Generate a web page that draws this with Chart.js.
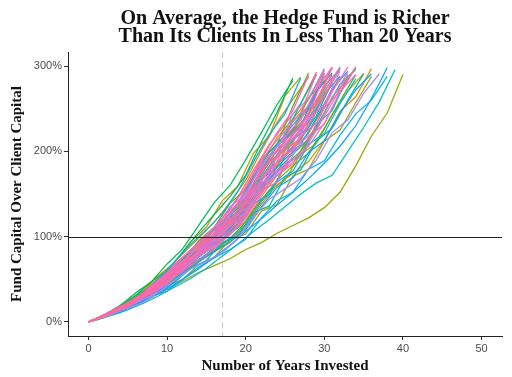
<!DOCTYPE html>
<html>
<head>
<meta charset="utf-8">
<script src="https://cdn.jsdelivr.net/npm/chart.js@4.4.1/dist/chart.umd.min.js"></script>
<style>
  html, body { margin: 0; padding: 0; background: #fff; }
</style>
</head>
<body>
<canvas id="sims" width="512" height="377"></canvas>
<script>
// fund capital / client capital (%), sampled every 2 years.
// some runs sit on even years, the others on 0,1,3,5,... (odd grid)
const evenYears = [0, 2, 4, 6, 8, 10, 12, 14, 16, 18, 20, 22, 24, 26, 28, 30, 32, 34, 36, 38, 40];
const oddYears = [0, 1, 3, 5, 7, 9, 11, 13, 15, 17, 19, 21, 23, 25, 27, 29, 31, 33, 35, 37, 39];

const run00 = [0, 7, 15, 26, 36, 52, 64, 84, 97, 123, 135, 168, 181, 221, 236, 276, 297];
const run01 = [0, 4, 13, 21, 36, 51, 68, 84, 100, 121, 146, 178, 208, 232, 256, 293];
const run02 = [0, 6, 13, 23, 35, 43, 59, 76, 89, 103, 118, 147, 172, 185, 217, 232, 268, 298];
const run03 = [0, 4, 12, 20, 31, 46, 64, 82, 96, 112, 135, 168, 196, 216, 237, 268, 298];
const run04 = [0, 8, 19, 28, 44, 61, 80, 98, 117, 140, 166, 201, 234, 261, 287];
const run05 = [0, 3, 11, 21, 29, 44, 55, 74, 86, 110, 121, 152, 164, 202, 215, 253, 285];
const run06 = [0, 6, 13, 20, 29, 42, 57, 71, 82, 93, 111, 138, 161, 174, 188, 213, 247, 264, 297];
const run07 = [0, 4, 10, 21, 34, 43, 60, 78, 94, 110, 128, 159, 187, 204, 240, 258, 298];
const run08 = [0, 4, 13, 25, 37, 55, 70, 94, 111, 142, 159, 198, 218, 265, 287];
const run09 = [0, 7, 16, 23, 36, 49, 64, 78, 92, 109, 130, 158, 184, 203, 221, 253, 288];
const run10 = [0, 3, 9, 18, 29, 36, 51, 66, 78, 90, 104, 132, 154, 166, 197, 209, 243, 271, 291];
const run11 = [0, 7, 16, 26, 38, 55, 74, 93, 109, 127, 151, 186, 216, 238, 261, 295];
const run12 = [0, 6, 13, 20, 29, 38, 48, 58, 66, 74, 85, 93, 104, 113, 122, 134, 152, 183, 218, 245, 290];
const run13 = [0, 3, 12, 19, 32, 45, 60, 74, 88, 106, 127, 156, 183, 203, 222, 255, 291];
const run14 = [0, 6, 13, 21, 29, 42, 50, 67, 76, 96, 103, 130, 138, 171, 179, 212, 225, 257, 288];
const run15 = [0, 7, 15, 27, 41, 51, 70, 89, 107, 124, 143, 177, 206, 225, 263, 283];
const run16 = [0, 3, 10, 18, 27, 40, 56, 71, 83, 96, 115, 144, 169, 184, 200, 227, 264, 285];
const run17 = [0, 8, 17, 29, 40, 58, 72, 95, 111, 139, 155, 191, 208, 253, 292];
const run18 = [0, 6, 14, 21, 33, 45, 59, 71, 83, 98, 117, 143, 166, 183, 198, 227, 259, 290];
const run19 = [0, 8, 19, 34, 47, 68, 86, 113, 140, 160, 190, 222, 255, 283];
const run20 = [0, 8, 17, 31, 47, 60, 82, 105, 126, 147, 172, 211, 246, 286];
const run21 = [0, 3, 11, 19, 28, 42, 59, 75, 88, 102, 123, 153, 179, 196, 214, 242, 281];
const run22 = [0, 7, 17, 25, 39, 53, 70, 85, 100, 120, 143, 173, 201, 223, 244, 292];
const run23 = [0, 3, 10, 18, 25, 38, 47, 63, 72, 93, 101, 128, 136, 170, 178, 212, 227, 260, 291];
const run24 = [0, 4, 11, 22, 36, 45, 64, 83, 100, 117, 137, 170, 199, 219, 256, 290];
const run25 = [0, 6, 15, 22, 35, 48, 63, 76, 89, 106, 126, 154, 178, 197, 214, 245, 279, 296];
const run26 = [0, 7, 15, 24, 35, 50, 68, 85, 99, 115, 137, 169, 196, 215, 235, 265, 297];
const run27 = [0, 2, 8, 14, 22, 31, 41, 51, 63, 77, 91, 106, 120, 135, 150, 163, 172, 200, 228, 258, 296];
const run28 = [0, 7, 17, 26, 40, 55, 72, 87, 104, 124, 147, 179, 208, 231, 253, 289];
const run29 = [0, 3, 10, 19, 27, 41, 51, 68, 78, 101, 110, 139, 149, 185, 195, 231, 248, 288];
const run30 = [0, 6, 11, 20, 30, 36, 50, 64, 75, 85, 97, 122, 142, 152, 179, 189, 219, 244, 260, 288];
const run31 = [0, 7, 15, 26, 35, 51, 62, 82, 94, 119, 131, 163, 175, 214, 228, 267, 288];
const run32 = [0, 4, 13, 22, 34, 51, 71, 91, 108, 127, 153, 188, 220, 244, 286];
const run33 = [0, 6, 12, 22, 34, 41, 57, 73, 86, 98, 113, 141, 164, 177, 208, 221, 256, 285];
const run34 = [0, 3, 12, 18, 31, 43, 57, 70, 83, 100, 120, 147, 172, 191, 208, 239, 273, 294];
const run35 = [0, 6, 12, 20, 29, 39, 50, 62, 76, 90, 106, 121, 137, 152, 168, 186, 206, 230, 262, 298];
const run36 = [0, 4, 11, 22, 31, 47, 58, 78, 91, 117, 129, 161, 175, 215, 230, 270, 292];
const run37 = [0, 6, 12, 21, 33, 40, 55, 70, 83, 94, 108, 135, 158, 169, 199, 212, 245, 272, 291];
const run38 = [0, 7, 16, 28, 39, 57, 70, 92, 107, 135, 149, 185, 201, 244, 262, 297];
const run39 = [0, 3, 9, 19, 31, 38, 54, 70, 84, 97, 112, 141, 166, 179, 211, 226, 262, 293];
const run40 = [0, 7, 16, 24, 38, 52, 68, 82, 97, 116, 138, 168, 195, 216, 236, 270, 299];
const run41 = [0, 3, 9, 16, 23, 35, 49, 62, 71, 81, 97, 123, 144, 156, 168, 190, 222, 237, 268, 291];
const run42 = [0, 4, 13, 20, 34, 48, 64, 79, 94, 113, 136, 167, 195, 217, 238, 273, 299];
const run43 = [0, 6, 14, 22, 31, 45, 61, 77, 88, 102, 121, 150, 175, 190, 206, 233, 270, 290];
const run44 = [0, 7, 14, 25, 38, 47, 64, 82, 97, 112, 130, 161, 187, 203, 238, 255, 294];
const run45 = [0, 7, 16, 25, 36, 51, 70, 88, 102, 119, 142, 174, 202, 222, 243, 290];
const run46 = [0, 3, 10, 19, 32, 39, 55, 72, 86, 100, 116, 145, 170, 185, 218, 233, 270, 299];
const run47 = [0, 8, 18, 27, 42, 58, 76, 93, 111, 132, 158, 191, 222, 248, 289];
const run48 = [0, 3, 11, 21, 30, 45, 56, 76, 88, 113, 124, 156, 169, 208, 222, 261, 289];
const run49 = [0, 6, 14, 24, 33, 48, 59, 78, 89, 113, 123, 154, 164, 202, 214, 251, 270, 299];
const run50 = [0, 7, 16, 28, 38, 55, 68, 89, 104, 131, 144, 179, 194, 236, 253, 295];
const run51 = [0, 3, 12, 19, 31, 44, 59, 72, 86, 103, 124, 152, 178, 197, 215, 247, 282];
const run52 = [0, 4, 12, 21, 32, 47, 66, 84, 99, 116, 140, 173, 202, 224, 245, 291];
const run53 = [0, 7, 14, 25, 39, 48, 66, 84, 100, 116, 134, 166, 193, 210, 246, 264, 298];
const run54 = [0, 3, 11, 17, 29, 41, 55, 66, 78, 94, 113, 139, 163, 180, 195, 225, 257, 290];
const run55 = [0, 4, 11, 20, 30, 45, 62, 79, 93, 109, 131, 162, 190, 209, 229, 259, 298];

const runs = [run00, run01, run02, run03, run04, run05, run06, run07, run08, run09,
              run10, run11, run12, run13, run14, run15, run16, run17, run18, run19,
              run20, run21, run22, run23, run24, run25, run26, run27, run28, run29,
              run30, run31, run32, run33, run34, run35, run36, run37, run38, run39,
              run40, run41, run42, run43, run44, run45, run46, run47, run48, run49,
              run50, run51, run52, run53, run54, run55];

// runs that use the odd-year grid
const oddGridRuns = [1, 3, 5, 7, 8, 10, 13, 16, 21, 23, 24, 27, 29, 32, 34, 36, 39, 41, 42, 46, 48, 51, 52, 54, 55];

const xTicks = [0, 10, 20, 30, 40, 50];
const yTicks = [0, 100, 200, 300];
const breakEven = 100;     // solid 100% line
const averageYear = 17;    // dashed line

const titleLines = ['On Average, the Hedge Fund is Richer', 'Than Its Clients In Less Than 20 Years'];

// ggplot-like hue palette
const hues = ['#F8766D', '#E38900', '#C49A00', '#99A800', '#53B400', '#00BC56', '#00C094',
              '#00BFC4', '#00B6EB', '#06A4FF', '#A58AFF', '#DF70F8', '#FB61D7', '#FF66A8', '#FF6C91'];

const datasets = runs.map((vals, i) => {
    const grid = oddGridRuns.includes(i) ? oddYears : evenYears;
    return {
        data: vals.map((v, j) => ({ x: grid[j], y: v })),
        borderColor: hues[Math.floor(i * hues.length / runs.length)],
        borderWidth: 1.25,
        pointRadius: 0,
        tension: 0,
        fill: false,
        order: runs.length - i   // later runs on top
    };
});

const refLines = {
    id: 'refLines',
    beforeDatasetsDraw(chart) {
        const {ctx, chartArea, scales} = chart;
        const x = Math.round(scales.x.getPixelForValue(averageYear)) + 0.5;
        ctx.save();
        ctx.strokeStyle = '#cccccc';
        ctx.lineWidth = 1.2;
        ctx.setLineDash([6, 4]);
        ctx.beginPath();
        ctx.moveTo(x, chartArea.top);
        ctx.lineTo(x, chartArea.bottom);
        ctx.stroke();
        ctx.restore();
    },
    afterDatasetsDraw(chart) {
        const {ctx, chartArea, scales} = chart;
        const y = Math.round(scales.y.getPixelForValue(breakEven)) + 0.5;
        ctx.save();
        ctx.strokeStyle = '#222';
        ctx.lineWidth = 1.2;
        ctx.beginPath();
        ctx.moveTo(chartArea.left, y);
        ctx.lineTo(chartArea.right, y);
        ctx.stroke();
        ctx.restore();
    }
};

// title centred over the panel, like ggplot
const panelTitle = {
    id: 'panelTitle',
    afterDraw(chart) {
        const {ctx, chartArea} = chart;
        const cx = (chartArea.left + chartArea.right) / 2;
        ctx.save();
        ctx.fillStyle = '#111';
        ctx.font = 'bold 20px "Liberation Serif"';
        ctx.textAlign = 'center';
        ctx.textBaseline = 'alphabetic';
        ctx.fillText(titleLines[0], cx, 24);
        ctx.fillText(titleLines[1], cx, 42);
        ctx.restore();
    }
};

new Chart(document.getElementById('sims'), {
    type: 'line',
    data: { datasets: datasets },
    options: {
        responsive: false,
        animation: false,
        layout: { padding: { top: 52, right: 10, left: 0, bottom: 0 } },
        plugins: {
            legend: { display: false },
            tooltip: { enabled: false }
        },
        scales: {
            x: {
                type: 'linear',
                min: -2.6,
                max: 52.6,
                afterBuildTicks: (axis) => { axis.ticks = xTicks.map(v => ({ value: v })); },
                afterFit: (axis) => { axis.height = 41; },
                grid: { display: true, drawOnChartArea: false, drawTicks: true, tickLength: 4, color: '#333' },
                border: { display: true, color: '#222', width: 1 },
                ticks: { color: '#4d4d4d', font: { family: '"Liberation Sans"', size: 11 }, padding: 2, maxRotation: 0 },
                title: {
                    display: true,
                    text: 'Number of Years Invested',
                    color: '#111',
                    font: { family: '"Liberation Serif"', size: 15, weight: 'bold' },
                    padding: { top: 0, bottom: 2 }
                }
            },
            y: {
                type: 'linear',
                min: -16.5,
                max: 316.5,
                afterBuildTicks: (axis) => { axis.ticks = yTicks.map(v => ({ value: v })); },
                afterFit: (axis) => { axis.width = 68; },
                grid: { display: true, drawOnChartArea: false, drawTicks: true, tickLength: 4, color: '#333' },
                border: { display: true, color: '#222', width: 1 },
                ticks: { color: '#4d4d4d', font: { family: '"Liberation Sans"', size: 11 }, padding: 2,
                         callback: (v) => v + '%' },
                title: {
                    display: true,
                    text: 'Fund Capital Over Client Capital',
                    color: '#111',
                    font: { family: '"Liberation Serif"', size: 15, weight: 'bold' },
                    padding: { top: 8, bottom: 0 }
                }
            }
        }
    },
    plugins: [refLines, panelTitle]
});
</script>
</body>
</html>
